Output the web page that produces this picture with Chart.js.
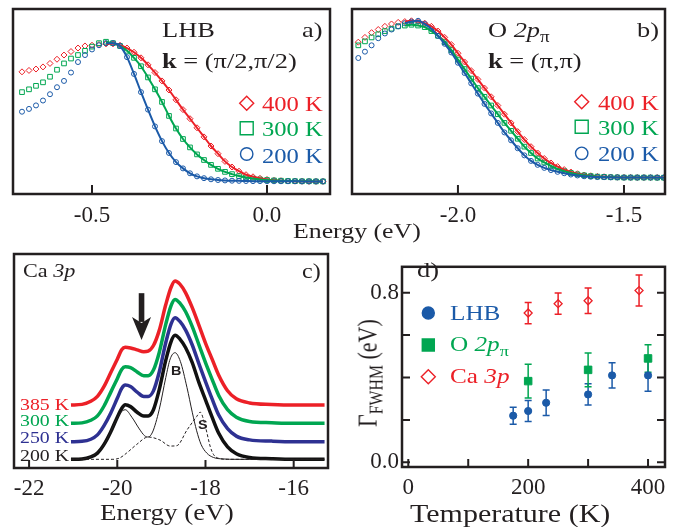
<!DOCTYPE html>
<html>
<head>
<meta charset="utf-8">
<script src="https://cdn.jsdelivr.net/npm/chart.js@4.4.1/dist/chart.umd.min.js"></script>
<style>
  html, body { margin: 0; padding: 0; background: #fff; }
  #fig { position: relative; width: 678px; height: 527px; overflow: hidden; font-family: "Liberation Serif", serif; }
  #fig canvas { position: absolute; }
  .t { position: absolute; white-space: nowrap; line-height: 1; transform-origin: 0 0; transform: scaleX(1.2); color: #231f20; }
  .t sub { font-size: 0.72em; position: relative; top: 0.32em; vertical-align: baseline; line-height: 0; }
  .ytitle { transform: rotate(-90deg) scale(1, 1.2); }
</style>
</head>
<body>
<div id="fig">
  <canvas id="chartA" width="340" height="250" style="left:0;top:0;width:340px;height:250px"></canvas>
  <canvas id="chartB" width="338" height="250" style="left:340px;top:0;width:338px;height:250px"></canvas>
  <canvas id="chartC" width="340" height="277" style="left:0;top:250px;width:340px;height:277px"></canvas>
  <canvas id="chartD" width="338" height="277" style="left:340px;top:250px;width:338px;height:277px"></canvas>
</div>
<script>
// ---- a) LHB, k = (pi/2, pi/2) ----
const energyA = [-0.70, -0.68, -0.66, -0.64, -0.62, -0.60, -0.58, -0.56, -0.54, -0.52, -0.50, -0.48, -0.46, -0.44, -0.42,
  -0.40, -0.38, -0.36, -0.34, -0.32, -0.30, -0.28, -0.26, -0.24, -0.22, -0.20, -0.18, -0.16, -0.14, -0.12,
  -0.10, -0.08, -0.06, -0.04, -0.02, 0.00, 0.02, 0.04, 0.06, 0.08, 0.10, 0.12, 0.14, 0.16];
const lhb400 = [0.785, 0.795, 0.805, 0.82, 0.845, 0.875, 0.905, 0.93, 0.955, 0.97, 0.975, 0.98, 0.985, 0.985, 0.975,
  0.955, 0.925, 0.885, 0.835, 0.78, 0.72, 0.655, 0.585, 0.515, 0.45, 0.385, 0.32, 0.255, 0.2, 0.145,
  0.105, 0.075, 0.05, 0.035, 0.024, 0.016, 0.01, 0.007, 0.005, 0.004, 0.003, 0.002, 0.002, 0.002];
const lhb300 = [0.64, 0.66, 0.685, 0.71, 0.75, 0.80, 0.845, 0.88, 0.905, 0.935, 0.965, 0.99, 1.0, 0.99, 0.97,
  0.935, 0.885, 0.825, 0.745, 0.66, 0.57, 0.47, 0.38, 0.305, 0.245, 0.195, 0.155, 0.12, 0.092, 0.07,
  0.054, 0.04, 0.03, 0.022, 0.016, 0.012, 0.009, 0.007, 0.005, 0.004, 0.003, 0.003, 0.002, 0.002];
const lhb200 = [0.50, 0.52, 0.545, 0.58, 0.625, 0.675, 0.72, 0.78, 0.855, 0.905, 0.945, 0.975, 0.99, 0.99, 0.97,
  0.89, 0.77, 0.64, 0.515, 0.395, 0.29, 0.205, 0.14, 0.095, 0.06, 0.038, 0.025, 0.017, 0.012, 0.009,
  0.007, 0.006, 0.005, 0.004, 0.004, 0.003, 0.003, 0.003, 0.003, 0.003, 0.002, 0.002, 0.002, 0.002];
const ticksA = [-0.5, 0.0];

// ---- b) O 2p_pi, k = (pi, pi) ----
const energyB = [-2.30, -2.28, -2.26, -2.24, -2.22, -2.20, -2.18, -2.16, -2.14, -2.12, -2.10, -2.08, -2.06, -2.04, -2.02, -2.00,
  -1.98, -1.96, -1.94, -1.92, -1.90, -1.88, -1.86, -1.84, -1.82, -1.80, -1.78, -1.76, -1.74, -1.72, -1.70,
  -1.68, -1.66, -1.64, -1.62, -1.60, -1.58, -1.56, -1.54, -1.52, -1.50, -1.48, -1.46, -1.44, -1.42, -1.40, -1.38];
const o400 = [0.86, 0.89, 0.92, 0.94, 0.96, 0.975, 0.985, 0.99, 0.995, 0.99, 0.98, 0.96, 0.93, 0.89, 0.845, 0.79,
  0.735, 0.68, 0.625, 0.57, 0.515, 0.46, 0.405, 0.35, 0.295, 0.245, 0.2, 0.16, 0.125, 0.097, 0.074,
  0.055, 0.04, 0.029, 0.021, 0.016, 0.012, 0.01, 0.008, 0.007, 0.006, 0.006, 0.005, 0.005, 0.005, 0.005, 0.005];
const o300 = [0.84, 0.865, 0.89, 0.91, 0.93, 0.945, 0.96, 0.965, 0.97, 0.965, 0.955, 0.93, 0.9, 0.86, 0.81, 0.75,
  0.69, 0.63, 0.57, 0.515, 0.46, 0.405, 0.35, 0.3, 0.25, 0.2, 0.16, 0.125, 0.1, 0.078, 0.06,
  0.045, 0.034, 0.025, 0.019, 0.014, 0.011, 0.009, 0.007, 0.006, 0.005, 0.005, 0.005, 0.005, 0.005, 0.004, 0.004];
const o200 = [0.76, 0.80, 0.84, 0.885, 0.915, 0.94, 0.96, 0.98, 0.99, 0.995, 0.975, 0.945, 0.9, 0.85, 0.795, 0.73,
  0.665, 0.6, 0.535, 0.47, 0.41, 0.35, 0.29, 0.24, 0.19, 0.145, 0.11, 0.085, 0.066, 0.052, 0.041,
  0.032, 0.024, 0.018, 0.013, 0.01, 0.008, 0.007, 0.006, 0.006, 0.005, 0.005, 0.005, 0.005, 0.005, 0.005, 0.005];
const ticksB = [-2.0, -1.5];

// ---- c) Ca 3p core level ----
const energyC = [-21.05, -20.8, -20.6, -20.45, -20.3, -20.15, -20.0, -19.9, -19.82, -19.7, -19.55, -19.4, -19.3, -19.18, -19.05,
  -18.9, -18.78, -18.69, -18.58, -18.45, -18.3, -18.15, -18.0, -17.85, -17.7, -17.5, -17.3, -17.0, -16.5, -16.0, -15.3];
const ca385 = [0, 0.005, 0.03, 0.07, 0.15, 0.26, 0.37, 0.445, 0.465, 0.46, 0.445, 0.43, 0.435, 0.48, 0.60,
  0.81, 0.95, 1.0, 0.975, 0.905, 0.785, 0.645, 0.50, 0.37, 0.24, 0.115, 0.05, 0.017, 0.005, 0, 0];
const ca300 = [0, 0.004, 0.025, 0.06, 0.14, 0.25, 0.36, 0.435, 0.456, 0.45, 0.415, 0.385, 0.385, 0.43, 0.57,
  0.80, 0.95, 1.0, 0.97, 0.90, 0.78, 0.635, 0.49, 0.355, 0.225, 0.11, 0.05, 0.015, 0.005, 0, 0];
const ca250 = [0, 0.003, 0.02, 0.055, 0.13, 0.23, 0.35, 0.43, 0.457, 0.445, 0.40, 0.365, 0.365, 0.41, 0.56,
  0.80, 0.95, 1.0, 0.97, 0.90, 0.78, 0.63, 0.485, 0.345, 0.215, 0.105, 0.045, 0.015, 0.005, 0, 0];
const ca200 = [0, 0.003, 0.02, 0.05, 0.12, 0.22, 0.34, 0.41, 0.44, 0.425, 0.38, 0.35, 0.35, 0.40, 0.56,
  0.80, 0.95, 1.0, 0.97, 0.90, 0.78, 0.62, 0.48, 0.34, 0.21, 0.10, 0.045, 0.015, 0.005, 0, 0];
const caOffsets = [0.438, 0.29, 0.142, 0];   // vertical stacking of 385, 300, 250, 200 K
const bulkE = [-21.05, -20.7, -20.47, -20.28, -20.09, -19.94, -19.82, -19.67, -19.5, -19.38, -19.3, -19.2, -19.05,
  -18.9, -18.8, -18.69, -18.57, -18.42, -18.3, -18.2, -18.1, -17.97, -17.82, -17.6, -17.3, -15.3];
const bulkI = [0, 0.008, 0.05, 0.13, 0.27, 0.37, 0.40, 0.34, 0.245, 0.19, 0.18, 0.22, 0.40,
  0.66, 0.81, 0.86, 0.79, 0.58, 0.38, 0.23, 0.12, 0.05, 0.015, 0.003, 0, 0];
const surfE = [-21.05, -20.1, -19.95, -19.79, -19.56, -19.3, -19.03, -18.8, -18.65, -18.42, -18.2, -18.12, -18.0,
  -17.89, -17.82, -17.7, -17.5, -15.3];
const surfI = [0, 0, 0.01, 0.05, 0.12, 0.18, 0.155, 0.107, 0.11, 0.236, 0.345, 0.38, 0.26,
  0.10, 0.04, 0.008, 0, 0];
const ticksC = [-22, -20, -18, -16];

// ---- d) widths vs temperature ----
const lhbT = [175, 200, 230, 300, 340, 400];
const lhbW = [0.22, 0.242, 0.281, 0.32, 0.41, 0.41];
const lhbErr = [0.04, 0.05, 0.06, 0.05, 0.06, 0.075];
const o2pT = [200, 300, 400];
const o2pW = [0.383, 0.436, 0.49];
const o2pErr = [0.08, 0.08, 0.065];
const ca3pT = [200, 250, 300, 385];
const ca3pW = [0.704, 0.748, 0.762, 0.81];
const ca3pErr = [0.05, 0.05, 0.06, 0.073];
const ticksDx = [0, 100, 200, 300, 400];
const ticksDy = [0, 0.2, 0.4, 0.6, 0.8];

const ink = '#231f20';
const red = '#ec2027', green = '#00a651', blue = '#1b5aa8', navy = '#2e3192';

Chart.defaults.font.family = '"Liberation Serif", serif';
Chart.defaults.color = ink;

const pts = (xs, ys, off) => xs.map((x, i) => ({ x: x, y: ys[i] + (off || 0) }));

// frame round the plot area
const frame = {
  id: 'frame',
  afterDraw(chart) {
    const a = chart.chartArea, ctx = chart.ctx;
    ctx.save();
    ctx.strokeStyle = ink;
    ctx.lineWidth = 2.5;
    ctx.strokeRect(a.left, a.top, a.right - a.left, a.bottom - a.top);
    ctx.restore();
  }
};

// tick marks pointing into the plot
const inTicks = {
  id: 'inTicks',
  afterDraw(chart, args, opts) {
    const a = chart.chartArea, ctx = chart.ctx, len = opts.len || 8;
    ctx.save();
    ctx.strokeStyle = ink;
    ctx.lineWidth = 2;
    ctx.beginPath();
    chart.scales.x.ticks.forEach(t => {
      const px = chart.scales.x.getPixelForValue(t.value);
      ctx.moveTo(px, a.bottom);
      ctx.lineTo(px, a.bottom - len);
    });
    if (opts.y) {
      chart.scales.y.ticks.forEach(t => {
        const py = chart.scales.y.getPixelForValue(t.value);
        ctx.moveTo(a.left, py); ctx.lineTo(a.left + len, py);
        ctx.moveTo(a.right, py); ctx.lineTo(a.right - len, py);
      });
    }
    ctx.stroke();
    ctx.restore();
  }
};

// legend symbols (open or filled), items passed directly, not through chart options
function symbol(ctx, style, x, y, r) {
  ctx.beginPath();
  if (style === 'circle') {
    ctx.arc(x, y, r, 0, Math.PI * 2);
  } else if (style === 'rect') {
    const s = r * Math.SQRT1_2;
    ctx.rect(x - s, y - s, 2 * s, 2 * s);
  } else {
    ctx.moveTo(x, y - r); ctx.lineTo(x + r, y); ctx.lineTo(x, y + r); ctx.lineTo(x - r, y);
    ctx.closePath();
  }
}
function legendKeys(items) {
  return {
    id: 'keys',
    afterDraw(chart) {
      const ctx = chart.ctx;
      items.forEach(k => {
        ctx.save();
        ctx.strokeStyle = k.color;
        ctx.fillStyle = k.color;
        ctx.lineWidth = 1.4;
        symbol(ctx, k.style, k.x, k.y, k.r);
        if (k.solid) ctx.fill();
        ctx.stroke();
        ctx.restore();
      });
    }
  };
}

// error bars for panel d
const errBars = {
  id: 'errBars',
  beforeDatasetsDraw(chart) {
    const ctx = chart.ctx, xs = chart.scales.x, ys = chart.scales.y;
    chart.data.datasets.forEach(ds => {
      if (!ds.err) return;
      ctx.save();
      ctx.strokeStyle = ds.borderColor;
      ctx.lineWidth = 1.5;
      ctx.beginPath();
      ds.data.forEach((p, i) => {
        const px = xs.getPixelForValue(p.x);
        const top = ys.getPixelForValue(p.y + ds.err[i]);
        const bot = ys.getPixelForValue(p.y - ds.err[i]);
        ctx.moveTo(px, top); ctx.lineTo(px, bot);
        ctx.moveTo(px - 3.5, top); ctx.lineTo(px + 3.5, top);
        ctx.moveTo(px - 3.5, bot); ctx.lineTo(px + 3.5, bot);
      });
      ctx.stroke();
      ctx.restore();
    });
  }
};

// the arrow in panel c
const arrow = {
  id: 'arrow',
  afterDatasetsDraw(chart, args, o) {
    if (o.x === undefined) return;
    const ctx = chart.ctx;
    const x = chart.scales.x.getPixelForValue(o.x);
    const y0 = chart.scales.y.getPixelForValue(o.from);
    const y1 = chart.scales.y.getPixelForValue(o.to);
    ctx.save();
    ctx.fillStyle = ink;
    ctx.fillRect(x - 2.8, y0, 5.6, y1 - y0 - 18);
    ctx.beginPath();
    ctx.moveTo(x - 9.5, y1 - 23);
    ctx.lineTo(x, y1 - 17);
    ctx.lineTo(x + 9.5, y1 - 23);
    ctx.lineTo(x, y1);
    ctx.closePath();
    ctx.fill();
    ctx.restore();
  }
};

const tickFont = { family: '"Liberation Serif", serif', size: 23 };

function xAxis(min, max, tickVals, height, fmt, pad) {
  return {
    type: 'linear', min: min, max: max,
    grid: { display: false, drawTicks: false },
    border: { display: false },
    afterBuildTicks: s => { s.ticks = tickVals.map(v => ({ value: v })); },
    afterFit: s => { s.height = height; },
    ticks: { font: tickFont, color: ink, padding: pad, autoSkip: false, maxRotation: 0, minRotation: 0, callback: fmt }
  };
}

function baseOptions(padding, scales, extra) {
  return {
    responsive: false,
    animation: false,
    layout: { padding: padding },
    scales: scales,
    plugins: Object.assign({ legend: { display: false }, tooltip: { enabled: false } }, extra)
  };
}

function spectrum(xs, ys, color, style, r, fitFrom, order) {
  const data = pts(xs, ys);
  return [
    { data: data, showLine: false, pointStyle: style, pointRadius: r, pointBorderWidth: 1,
      pointBorderColor: color, pointBackgroundColor: 'rgba(0,0,0,0)', order: order },
    { data: data.filter(p => p.x >= fitFrom), showLine: true, pointRadius: 0, borderColor: color,
      borderWidth: 2, cubicInterpolationMode: 'monotone', order: 0 }
  ];
}

// panel a
new Chart(document.getElementById('chartA').getContext('2d'), {
  type: 'scatter',
  data: {
    datasets: [].concat(
      spectrum(energyA, lhb200, blue, 'circle', 2.5, -0.46, 1),
      spectrum(energyA, lhb300, green, 'rect', 3.3, -0.46, 2),
      spectrum(energyA, lhb400, red, 'rectRot', 3, -0.46, 3)
    )
  },
  options: baseOptions({ left: 13, right: 10, top: 9, bottom: 0 }, {
    x: xAxis(-0.7257, 0.18, ticksA, 56, v => v.toFixed(1), 8),
    y: { display: false, min: -0.088, max: 1.234 }
  }, { inTicks: { len: 9 } }),
  plugins: [frame, inTicks, legendKeys([
    { style: 'diamond', r: 7, color: red, x: 246.7, y: 103.3 },
    { style: 'rect', r: 9.2, color: green, x: 246.7, y: 128.3 },
    { style: 'circle', r: 6.2, color: blue, x: 246.7, y: 154 }
  ])]
});

// panel b
new Chart(document.getElementById('chartB').getContext('2d'), {
  type: 'scatter',
  data: {
    datasets: [].concat(
      spectrum(energyB, o200, blue, 'circle', 2.5, -2.16, 1),
      spectrum(energyB, o300, green, 'rect', 3.3, -2.16, 2),
      spectrum(energyB, o400, red, 'rectRot', 3, -2.16, 3)
    )
  },
  options: baseOptions({ left: 12, right: 13, top: 9, bottom: 0 }, {
    x: xAxis(-2.319, -1.3765, ticksB, 56, v => v.toFixed(1), 8),
    y: { display: false, min: -0.099, max: 1.0695 }
  }, { inTicks: { len: 9 } }),
  plugins: [frame, inTicks, legendKeys([
    { style: 'diamond', r: 7, color: red, x: 241.7, y: 101.7 },
    { style: 'rect', r: 9.2, color: green, x: 241.7, y: 126.7 },
    { style: 'circle', r: 6.2, color: blue, x: 241.7, y: 153.3 }
  ])]
});

// panel c
const caSets = [[ca385, red], [ca300, green], [ca250, navy], [ca200, '#111111']].map((c, k) => ({
  data: pts(energyC, c[0], caOffsets[k]), showLine: true, pointRadius: 0, borderColor: c[1],
  borderWidth: 3.5, cubicInterpolationMode: 'monotone'
}));
new Chart(document.getElementById('chartC').getContext('2d'), {
  type: 'scatter',
  data: {
    datasets: [
      { data: pts(bulkE, bulkI), showLine: true, pointRadius: 0, borderColor: ink, borderWidth: 1,
        cubicInterpolationMode: 'monotone' },
      { data: pts(surfE, surfI), showLine: true, pointRadius: 0, borderColor: ink, borderWidth: 1,
        borderDash: [3, 2], cubicInterpolationMode: 'monotone' }
    ].concat(caSets)
  },
  options: baseOptions({ left: 14, right: 12, top: 4, bottom: 0 }, {
    x: xAxis(-22.342, -15.222, ticksC, 59, v => String(v), 7),
    y: { display: false, min: -0.07, max: 1.656 }
  }, {
    inTicks: { len: 8 },
    arrow: { x: -19.45, from: 1.34, to: 0.963 }
  }),
  plugins: [frame, inTicks, arrow]
});

// panel d
new Chart(document.getElementById('chartD').getContext('2d'), {
  type: 'scatter',
  data: {
    datasets: [
      { data: pts(lhbT, lhbW), err: lhbErr, borderColor: blue, pointStyle: 'circle', pointRadius: 3.6,
        pointBackgroundColor: blue, pointBorderColor: blue, pointBorderWidth: 1 },
      { data: pts(o2pT, o2pW), err: o2pErr, borderColor: green, pointStyle: 'rect', pointRadius: 5.3,
        pointBackgroundColor: green, pointBorderColor: green, pointBorderWidth: 1 },
      { data: pts(ca3pT, ca3pW), err: ca3pErr, borderColor: red, pointStyle: 'rectRot', pointRadius: 4,
        pointBackgroundColor: 'rgba(0,0,0,0)', pointBorderColor: red, pointBorderWidth: 1.3 }
    ]
  },
  options: baseOptions({ left: 0, right: 13, top: 1, bottom: 0 }, {
    x: xAxis(-10.5, 428.3, ticksDx, 60, v => (v % 200 === 0 ? String(v) : ''), 7),
    y: {
      type: 'linear', min: -0.022, max: 0.922,
      grid: { display: false, drawTicks: false },
      border: { display: false },
      afterBuildTicks: s => { s.ticks = ticksDy.map(v => ({ value: v })); },
      afterFit: s => { s.width = 62; },
      ticks: { font: tickFont, color: ink, padding: 3, autoSkip: false,
        callback: v => (v === 0 || v === 0.8 ? v.toFixed(1) : '') }
    }
  }, { inTicks: { len: 8, y: true } }),
  plugins: [frame, inTicks, errBars, legendKeys([
    { style: 'circle', r: 6, color: blue, solid: true, x: 88.3, y: 63 },
    { style: 'rect', r: 8.5, color: green, solid: true, x: 88.3, y: 95 },
    { style: 'diamond', r: 7, color: red, x: 88.3, y: 126.7 }
  ])]
});

// text labels, placed by left edge and baseline
const fig = document.getElementById('fig');
function put(html, x, base, size, color, family) {
  const d = document.createElement('div');
  d.className = 't';
  d.innerHTML = html;
  d.style.left = x + 'px';
  d.style.top = (base - 0.84 * size) + 'px';
  d.style.fontSize = size + 'px';
  if (color) d.style.color = color;
  if (family) d.style.fontFamily = family;
  fig.appendChild(d);
  return d;
}

put('LHB', 161.7, 37, 22);
put('a)', 301.7, 37, 22);
put('<b>k</b> = (π/2,π/2)', 161.7, 68, 22);
put('400 K', 261.7, 111.5, 20.5, red);
put('300 K', 261.7, 136.7, 20.5, green);
put('200 K', 261.7, 163, 20.5, blue);

put('O <i>2p</i><sub>π</sub>', 488, 37, 22);
put('b)', 636.7, 37, 22);
put('<b>k</b> = (π,π)', 488, 68, 22);
put('400 K', 598, 110, 20.5, red);
put('300 K', 598, 135, 20.5, green);
put('200 K', 598, 161, 20.5, blue);

put('Energy (eV)', 293, 239, 21.5);

put('Ca <i>3p</i>', 23, 278, 18.5);
put('c)', 301.7, 278, 20);
put('385 K', 20, 410.7, 16.5, red);
put('300 K', 20, 426.7, 16.5, green);
put('250 K', 20, 444.3, 16.5, navy);
put('200 K', 20, 462.3, 16.5, ink);
put('<b>B</b>', 171, 375, 12, ink, '"Liberation Sans", sans-serif');
put('<b>S</b>', 197.5, 429, 12, ink, '"Liberation Sans", sans-serif');
put('Energy (eV)', 100, 521, 22.5);

put('d)', 417, 277, 22);
put('LHB', 450, 320.7, 21, blue);
put('O <i>2p</i><sub>π</sub>', 450, 351.7, 21, green);
put('Ca <i>3p</i>', 450, 383.3, 21, red);
put('Temperature (K)', 410, 521.7, 25);

// rotated y title of panel d
const yt = document.createElement('div');
yt.className = 't ytitle';
yt.innerHTML = 'Γ<sub>FWHM</sub> (eV)';
yt.style.fontSize = '22px';
yt.style.left = '354.8px';
yt.style.top = '427px';
fig.appendChild(yt);
</script>
</body>
</html>
